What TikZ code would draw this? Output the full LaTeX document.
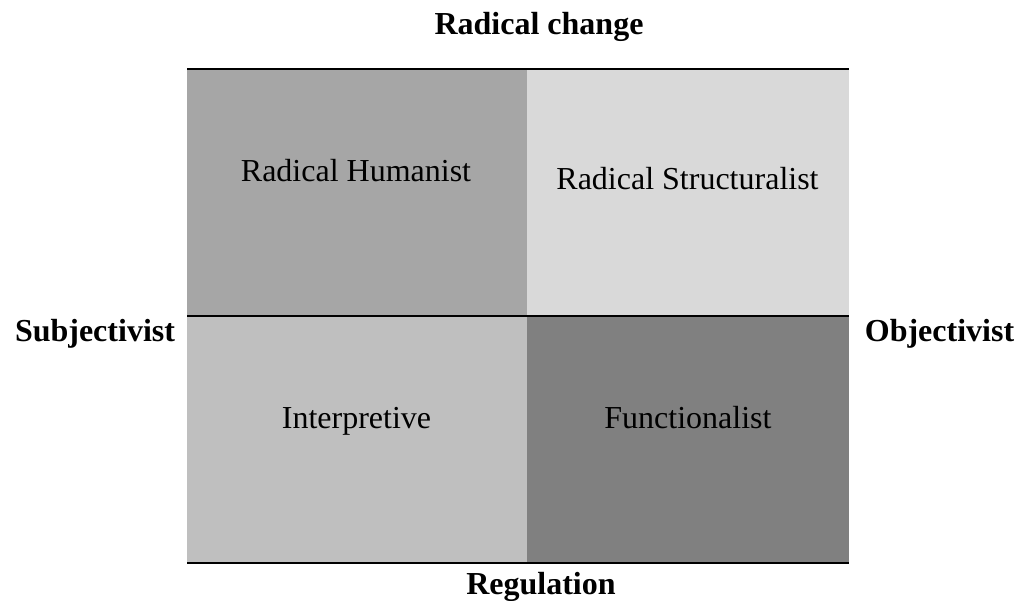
\documentclass[tikz,border=0pt]{standalone}
\usepackage{fontspec}
\setmainfont{Liberation Serif}
\definecolor{qTL}{HTML}{A6A6A6}
\definecolor{qTR}{HTML}{D9D9D9}
\definecolor{qBL}{HTML}{BFBFBF}
\definecolor{qBR}{HTML}{808080}
\tikzset{
  axislabel/.style={anchor=base, inner sep=0pt, font=\fontsize{32}{38}\selectfont\bfseries},
  quadlabel/.style={anchor=base, inner sep=0pt, font=\fontsize{32}{38}\selectfont},
  rule/.style={line width=2pt, black}
}
\begin{document}
\begin{tikzpicture}[x=1pt,y=-1pt]
\useasboundingbox (0,0) rectangle (1016,601);
\fill[qTL] (187,69) rectangle (527,316);
\fill[qTR] (527,69) rectangle (849,316);
\fill[qBL] (187,316) rectangle (527,563);
\fill[qBR] (527,316) rectangle (849,563);
\coordinate (tl) at (187,69);
\coordinate (tr) at (849,69);
\coordinate (ml) at (187,316);
\coordinate (mr) at (849,316);
\coordinate (bl) at (187,563);
\coordinate (br) at (849,563);
\draw[rule] (tl) -- (tr);
\draw[rule] (ml) -- (mr);
\draw[rule] (bl) -- (br);
\node[axislabel] (top) at (539,35) {Radical change};
\node[axislabel] (left) at (95,341) {Subjectivist};
\node[axislabel] (right) at (939.5,341) {Objectivist};
\node[axislabel] (bottom) at (541,594) {Regulation};
\node[quadlabel] (rh) at (356,182) {Radical Humanist};
\node[quadlabel] (rs) at (687.5,190) {Radical Structuralist};
\node[quadlabel] (ip) at (356.5,428) {Interpretive};
\node[quadlabel] (fn) at (688,428) {Functionalist};
\end{tikzpicture}
\end{document}
